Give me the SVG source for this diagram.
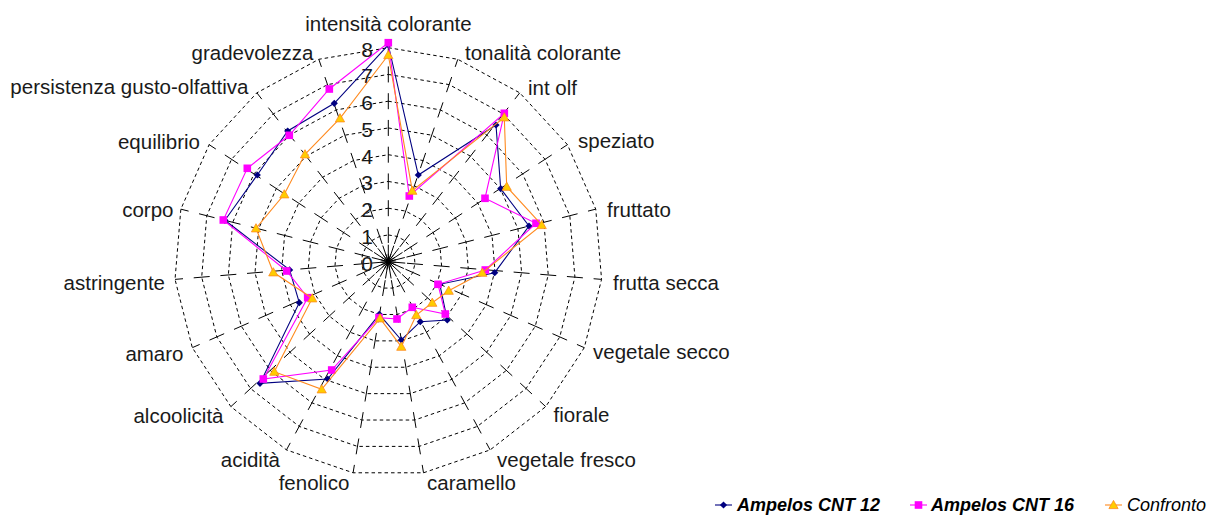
<svg xmlns="http://www.w3.org/2000/svg" xmlns:xlink="http://www.w3.org/1999/xlink" width="1207" height="515" viewBox="0 0 1207 515">
<style>
.ring{fill:none;stroke:#000;stroke-width:1;stroke-dasharray:3.5 3}
.axis{stroke:#000;stroke-width:1;stroke-dasharray:16 10.75;stroke-dashoffset:8}
.hub{stroke:#000;stroke-width:1}
.cat{font-family:"Liberation Sans",Arial,sans-serif;font-size:20.5px;fill:#1a1a1a}
.tick{font-family:"Liberation Sans",Arial,sans-serif;font-size:21px;fill:#1a1a1a;text-anchor:end}
.leg{font-family:"Liberation Sans",Arial,sans-serif;font-size:18px;font-style:italic;fill:#000}
.s1{fill:none;stroke:#000080;stroke-width:1.1}
.s2{fill:none;stroke:#FF00FF;stroke-width:1.1}
.s3{fill:none;stroke:#FF8A1F;stroke-width:1.1}
</style>
<defs>
<path id="dia" d="M0,-3.6 L3.6,0 L0,3.6 L-3.6,0Z" fill="#000080"/>
<rect id="sq" x="-3.8" y="-3.8" width="7.6" height="7.6" fill="#FF00FF"/>
<path id="tri" d="M0,-4.6 L4.6,3.6 L-4.6,3.6Z" fill="#FFCC00" stroke="#FF8A1F" stroke-width="0.8"/>
</defs>
<rect width="1207" height="515" fill="#fff"/>
<g id="grid" transform="translate(388.3,261.7)">
<polygon class="ring" points="0,-26.75 8.69,-25.30 16.43,-21.11 22.40,-14.63 25.93,-6.57 26.66,2.21 24.50,10.75 19.68,18.12 12.73,23.53 4.40,26.39 -4.40,26.39 -12.73,23.53 -19.68,18.12 -24.50,10.75 -26.66,2.21 -25.93,-6.57 -22.40,-14.63 -16.43,-21.11 -8.69,-25.30"/>
<polygon class="ring" points="0,-53.5 17.37,-50.60 32.86,-42.22 44.79,-29.26 51.86,-13.13 53.32,4.42 48.99,21.49 39.36,36.24 25.46,47.05 8.81,52.77 -8.81,52.77 -25.46,47.05 -39.36,36.24 -48.99,21.49 -53.32,4.42 -51.86,-13.13 -44.79,-29.26 -32.86,-42.22 -17.37,-50.60"/>
<polygon class="ring" points="0,-80.25 26.06,-75.90 49.29,-63.33 67.19,-43.89 77.79,-19.70 79.98,6.63 73.49,32.24 59.04,54.35 38.19,70.58 13.21,79.16 -13.21,79.16 -38.19,70.58 -59.04,54.35 -73.49,32.24 -79.98,6.63 -77.79,-19.70 -67.19,-43.89 -49.29,-63.33 -26.06,-75.90"/>
<polygon class="ring" points="0,-107 34.74,-101.20 65.72,-84.43 89.58,-58.52 103.73,-26.27 106.64,8.84 97.99,42.98 78.72,72.47 50.92,94.11 17.61,105.54 -17.61,105.54 -50.92,94.11 -78.72,72.47 -97.99,42.98 -106.64,8.84 -103.73,-26.27 -89.58,-58.52 -65.72,-84.43 -34.74,-101.20"/>
<polygon class="ring" points="0,-133.75 43.43,-126.50 82.15,-105.54 111.98,-73.15 129.66,-32.84 133.30,11.05 122.49,53.73 98.40,90.59 63.65,117.63 22.02,131.93 -22.02,131.93 -63.65,117.63 -98.40,90.59 -122.49,53.73 -133.30,11.05 -129.66,-32.84 -111.98,-73.15 -82.15,-105.54 -43.43,-126.50"/>
<polygon class="ring" points="0,-160.5 52.11,-151.80 98.58,-126.65 134.37,-87.78 155.59,-39.40 159.95,13.26 146.99,64.47 118.08,108.71 76.38,141.16 26.42,158.32 -26.42,158.32 -76.38,141.16 -118.08,108.71 -146.99,64.47 -159.95,13.26 -155.59,-39.40 -134.37,-87.78 -98.58,-126.65 -52.11,-151.80"/>
<polygon class="ring" points="0,-187.25 60.80,-177.10 115.01,-147.76 156.77,-102.41 181.52,-45.97 186.61,15.47 171.48,75.22 137.76,126.82 89.11,164.69 30.82,184.70 -30.82,184.70 -89.11,164.69 -137.76,126.82 -171.48,75.22 -186.61,15.47 -181.52,-45.97 -156.77,-102.41 -115.01,-147.76 -60.80,-177.10"/>
<polygon class="ring" points="0,-214 69.49,-202.40 131.44,-168.87 179.16,-117.04 207.45,-52.54 213.27,17.68 195.98,85.96 157.44,144.94 101.84,188.21 35.22,211.09 -35.22,211.09 -101.84,188.21 -157.44,144.94 -195.98,85.96 -213.27,17.68 -207.45,-52.54 -179.16,-117.04 -131.44,-168.87 -69.49,-202.40"/>
<g id="axes">
<line class="axis" x1="0" y1="0" x2="0" y2="-214"/>
<line class="axis" x1="0" y1="0" x2="69.49" y2="-202.40"/>
<line class="axis" x1="0" y1="0" x2="131.44" y2="-168.87"/>
<line class="axis" x1="0" y1="0" x2="179.16" y2="-117.04"/>
<line class="axis" x1="0" y1="0" x2="207.45" y2="-52.54"/>
<line class="axis" x1="0" y1="0" x2="213.27" y2="17.68"/>
<line class="axis" x1="0" y1="0" x2="195.98" y2="85.96"/>
<line class="axis" x1="0" y1="0" x2="157.44" y2="144.94"/>
<line class="axis" x1="0" y1="0" x2="101.84" y2="188.21"/>
<line class="axis" x1="0" y1="0" x2="35.22" y2="211.09"/>
<line class="axis" x1="0" y1="0" x2="-35.22" y2="211.09"/>
<line class="axis" x1="0" y1="0" x2="-101.84" y2="188.21"/>
<line class="axis" x1="0" y1="0" x2="-157.44" y2="144.94"/>
<line class="axis" x1="0" y1="0" x2="-195.98" y2="85.96"/>
<line class="axis" x1="0" y1="0" x2="-213.27" y2="17.68"/>
<line class="axis" x1="0" y1="0" x2="-207.45" y2="-52.54"/>
<line class="axis" x1="0" y1="0" x2="-179.16" y2="-117.04"/>
<line class="axis" x1="0" y1="0" x2="-131.44" y2="-168.87"/>
<line class="axis" x1="0" y1="0" x2="-69.49" y2="-202.40"/>
</g>
<path class="hub" d="M0,0 0,-17 M0,0 5.52,-16.08 M0,0 10.44,-13.41 M0,0 14.23,-9.30 M0,0 16.48,-4.17 M0,0 16.94,1.40 M0,0 15.57,6.83 M0,0 12.51,11.51 M0,0 8.09,14.95 M0,0 2.80,16.77 M0,0 -2.80,16.77 M0,0 -8.09,14.95 M0,0 -12.51,11.51 M0,0 -15.57,6.83 M0,0 -16.94,1.40 M0,0 -16.48,-4.17 M0,0 -14.23,-9.30 M0,0 -10.44,-13.41 M0,0 -5.52,-16.08"/>
</g>
<g id="value-labels">
<text class="tick" x="373" y="270.5">0</text>
<text class="tick" x="373" y="243.7">1</text>
<text class="tick" x="373" y="217">2</text>
<text class="tick" x="373" y="190.2">3</text>
<text class="tick" x="373" y="163.5">4</text>
<text class="tick" x="373" y="136.7">5</text>
<text class="tick" x="373" y="110">6</text>
<text class="tick" x="373" y="83.2">7</text>
<text class="tick" x="373" y="56.5">8</text>
</g>
<g id="category-labels">
<text class="cat" x="388.5" y="31" text-anchor="middle">intensità colorante</text>
<text class="cat" x="465" y="60">tonalità colorante</text>
<text class="cat" x="528" y="95">int olf</text>
<text class="cat" x="578" y="148">speziato</text>
<text class="cat" x="607" y="217">fruttato</text>
<text class="cat" x="613" y="290">frutta secca</text>
<text class="cat" x="593" y="359">vegetale secco</text>
<text class="cat" x="553.5" y="422">fiorale</text>
<text class="cat" x="497" y="467">vegetale fresco</text>
<text class="cat" x="471.5" y="490" text-anchor="middle">caramello</text>
<text class="cat" x="314" y="490" text-anchor="middle">fenolico</text>
<text class="cat" x="280" y="467" text-anchor="end">acidità</text>
<text class="cat" x="223.5" y="423" text-anchor="end">alcoolicità</text>
<text class="cat" x="183.5" y="361" text-anchor="end">amaro</text>
<text class="cat" x="165" y="290" text-anchor="end">astringente</text>
<text class="cat" x="173.5" y="217" text-anchor="end">corpo</text>
<text class="cat" x="200" y="149" text-anchor="end">equilibrio</text>
<text class="cat" x="248.5" y="94" text-anchor="end">persistenza gusto-olfattiva</text>
<text class="cat" x="313.5" y="60" text-anchor="end">gradevolezza</text>
</g>
<g id="connectors">
<g id="series-cnt12">
<polygon class="s1" points="388.3,45 418.3,175 496,125 500.7,188.7 529,226 494.7,272.7 439.8,284.3 447.3,320 420.3,321.7 401.3,340 379.3,314.3 327.7,379 260,383.3 299.3,302.7 289.6,269.9 224.9,220.3 257.3,175 287.7,131 334.3,103.3"/>
<use href="#dia" x="388.3" y="45"/><use href="#dia" x="418.3" y="175"/><use href="#dia" x="496" y="125"/><use href="#dia" x="500.7" y="188.7"/><use href="#dia" x="529" y="226"/><use href="#dia" x="494.7" y="272.7"/><use href="#dia" x="439.8" y="284.3"/><use href="#dia" x="447.3" y="320"/><use href="#dia" x="420.3" y="321.7"/><use href="#dia" x="401.3" y="340"/><use href="#dia" x="379.3" y="314.3"/><use href="#dia" x="327.7" y="379"/><use href="#dia" x="260" y="383.3"/><use href="#dia" x="299.3" y="302.7"/><use href="#dia" x="289.6" y="269.9"/><use href="#dia" x="224.9" y="220.3"/><use href="#dia" x="257.3" y="175"/><use href="#dia" x="287.7" y="131"/><use href="#dia" x="334.3" y="103.3"/>
</g>
<g id="series-cnt16">
<polygon class="s2" points="388.3,42.7 409.3,196 504.3,113.3 485,198.3 536,223.3 485.3,270 438,284.3 445.3,314 412.3,307.3 397,319 379,317.6 331.7,370 263.3,379 307.7,297.7 286.7,271 223.3,220 247.3,168.3 289.3,135.3 329.3,89"/>
<use href="#sq" x="388.3" y="42.7"/><use href="#sq" x="409.3" y="196"/><use href="#sq" x="504.3" y="113.3"/><use href="#sq" x="485" y="198.3"/><use href="#sq" x="536" y="223.3"/><use href="#sq" x="485.3" y="270"/><use href="#sq" x="438" y="284.3"/><use href="#sq" x="445.3" y="314"/><use href="#sq" x="412.3" y="307.3"/><use href="#sq" x="397" y="319"/><use href="#sq" x="379" y="317.6"/><use href="#sq" x="331.7" y="370"/><use href="#sq" x="263.3" y="379"/><use href="#sq" x="307.7" y="297.7"/><use href="#sq" x="286.7" y="271"/><use href="#sq" x="223.3" y="220"/><use href="#sq" x="247.3" y="168.3"/><use href="#sq" x="289.3" y="135.3"/><use href="#sq" x="329.3" y="89"/>
</g>
<g id="series-confronto">
<polygon class="s3" points="388.3,55 412.3,190.7 504.3,117.3 506.7,186.7 541.7,225 482.3,272.7 448.7,290.7 432.3,302.7 416.3,315 401.3,346.7 380,318.3 321.7,389.3 274.3,371.7 312.3,298.3 273.3,272.3 256,228.3 284.3,194.3 305,154.3 340,118.3"/>
<use href="#tri" x="388.3" y="55"/><use href="#tri" x="412.3" y="190.7"/><use href="#tri" x="504.3" y="117.3"/><use href="#tri" x="506.7" y="186.7"/><use href="#tri" x="541.7" y="225"/><use href="#tri" x="482.3" y="272.7"/><use href="#tri" x="448.7" y="290.7"/><use href="#tri" x="432.3" y="302.7"/><use href="#tri" x="416.3" y="315"/><use href="#tri" x="401.3" y="346.7"/><use href="#tri" x="380" y="318.3"/><use href="#tri" x="321.7" y="389.3"/><use href="#tri" x="274.3" y="371.7"/><use href="#tri" x="312.3" y="298.3"/><use href="#tri" x="273.3" y="272.3"/><use href="#tri" x="256" y="228.3"/><use href="#tri" x="284.3" y="194.3"/><use href="#tri" x="305" y="154.3"/><use href="#tri" x="340" y="118.3"/>
</g>
</g>
<g id="legend">
<g id="legend-cnt12">
<line class="s1" x1="715" y1="505" x2="732" y2="505"/>
<use href="#dia" x="723.5" y="505"/>
<text class="leg" x="737" y="511" font-weight="bold">Ampelos CNT 12</text>
</g>
<g id="legend-cnt16">
<line class="s2" x1="910" y1="505" x2="927" y2="505"/>
<use href="#sq" x="918.5" y="505"/>
<text class="leg" x="931" y="511" font-weight="bold">Ampelos CNT 16</text>
</g>
<g id="legend-confronto">
<line class="s3" x1="1105" y1="505" x2="1122" y2="505"/>
<use href="#tri" x="1113.5" y="505"/>
<text class="leg" x="1127" y="511">Confronto</text>
</g>
</g>
</svg>
